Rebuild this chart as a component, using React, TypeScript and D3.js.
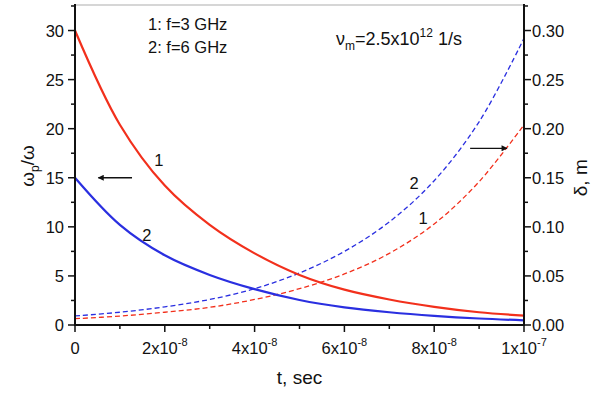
import React from "react";
import * as d3 from "d3";

const times = [0, 1e-8, 2e-8, 3e-8, 4e-8, 5e-8, 6e-8, 7e-8, 8e-8, 9e-8, 1e-7];
const ratio3GHz = [30, 20.4, 14.2, 10.2, 7.3, 5.1, 3.6, 2.6, 1.85, 1.3, 0.95];
const ratio6GHz = [15, 10.2, 7.1, 5.1, 3.65, 2.55, 1.8, 1.3, 0.93, 0.66, 0.48];
const delta3GHz = [0.0064, 0.0091, 0.013, 0.018, 0.026, 0.037, 0.052, 0.073, 0.103, 0.146, 0.204];
const delta6GHz = [0.0092, 0.013, 0.0185, 0.026, 0.037, 0.053, 0.075, 0.105, 0.147, 0.207, 0.292];

const xTicks = [
  { v: 0, m: "0", e: "" },
  { v: 2e-8, m: "2x10", e: "-8" },
  { v: 4e-8, m: "4x10", e: "-8" },
  { v: 6e-8, m: "6x10", e: "-8" },
  { v: 8e-8, m: "8x10", e: "-8" },
  { v: 1e-7, m: "1x10", e: "-7" },
];
const xMinor = [1e-8, 3e-8, 5e-8, 7e-8, 9e-8];
const yLeftTicks = [0, 5, 10, 15, 20, 25, 30];
const yLeftMinor = [2.5, 7.5, 12.5, 17.5, 22.5, 27.5, 32.5];
const yRightTicks = ["0.00", "0.05", "0.10", "0.15", "0.20", "0.25", "0.30"];
const yRightMinor = [0.025, 0.075, 0.125, 0.175, 0.225, 0.275, 0.325];

const RED = "#f2301c";
const BLUE = "#2a2fe0";
const FONT = "'Liberation Sans', Arial, Helvetica, sans-serif";

export default function App() {
  const W = 605, H = 393;
  const x = d3.scaleLinear().domain([0, 1e-7]).range([75, 524]);
  const yL = d3.scaleLinear().domain([0, 32.6]).range([325, 5]);
  const yR = d3.scaleLinear().domain([0, 0.326]).range([325, 5]);

  const lineL = d3
    .line<number>()
    .x((_, i) => x(times[i]))
    .y((d) => yL(d))
    .curve(d3.curveCatmullRom.alpha(0.5));
  const lineR = d3
    .line<number>()
    .x((_, i) => x(times[i]))
    .y((d) => yR(d))
    .curve(d3.curveCatmullRom.alpha(0.5));

  const x0 = x(0), x1 = x(1e-7), yb = yL(0), yt = 5;
  const FS = 16.5;

  return (
    <svg
      width={W}
      height={H}
      style={{ position: "absolute", left: 0, top: 0, background: "#fff" }}
      fontFamily={FONT}
    >
      <rect width={W} height={H} fill="#fff" />
      <line x1={x0} x2={x1} y1={yt} y2={yt} stroke="#c8c8c8" strokeWidth={1.5} />

      <path d={lineR(delta6GHz) || ""} fill="none" stroke={BLUE} strokeWidth={1.3} strokeDasharray="5,3" />
      <path d={lineR(delta3GHz) || ""} fill="none" stroke={RED} strokeWidth={1.3} strokeDasharray="5,3" />
      <path d={lineL(ratio6GHz) || ""} fill="none" stroke={BLUE} strokeWidth={2.2} />
      <path d={lineL(ratio3GHz) || ""} fill="none" stroke={RED} strokeWidth={2.2} />

      <line x1={x0} x2={x0} y1={yt - 1} y2={yb + 1} stroke="#111" strokeWidth={2} />
      <line x1={x1} x2={x1} y1={yt - 1} y2={yb + 1} stroke="#111" strokeWidth={2} />
      <line x1={x0 - 1} x2={x1 + 1} y1={yb} y2={yb} stroke="#111" strokeWidth={2} />

      {xTicks.map((t) => (
        <g key={"xt" + t.v}>
          <line x1={x(t.v)} x2={x(t.v)} y1={yb} y2={yb + 7} stroke="#111" strokeWidth={1.5} />
          <text x={x(t.v)} y={yb + 29} textAnchor="middle" fontSize={FS} fill="#111">
            {t.m}
            {t.e && (
              <tspan fontSize={11} dy={-8}>
                {t.e}
              </tspan>
            )}
          </text>
        </g>
      ))}
      {xMinor.map((v) => (
        <line key={"xm" + v} x1={x(v)} x2={x(v)} y1={yb} y2={yb + 4} stroke="#111" strokeWidth={1.5} />
      ))}

      {yLeftTicks.map((v) => (
        <g key={"yl" + v}>
          <line x1={x0 - 7} x2={x0} y1={yL(v)} y2={yL(v)} stroke="#111" strokeWidth={1.5} />
          <text x={x0 - 11} y={yL(v) + 6} textAnchor="end" fontSize={FS} fill="#111">
            {v}
          </text>
        </g>
      ))}
      {yLeftMinor.map((v) => (
        <line key={"ylm" + v} x1={x0 - 4} x2={x0} y1={yL(v)} y2={yL(v)} stroke="#111" strokeWidth={1.5} />
      ))}

      {yRightTicks.map((s) => (
        <g key={"yr" + s}>
          <line x1={x1} x2={x1 + 7} y1={yR(+s)} y2={yR(+s)} stroke="#111" strokeWidth={1.5} />
          <text x={x1 + 8} y={yR(+s) + 6} textAnchor="start" fontSize={FS} fill="#111">
            {s}
          </text>
        </g>
      ))}
      {yRightMinor.map((v) => (
        <line key={"yrm" + v} x1={x1} x2={x1 + 4} y1={yR(v)} y2={yR(v)} stroke="#111" strokeWidth={1.5} />
      ))}

      <text x={x(5e-8)} y={384} textAnchor="middle" fontSize={19} fill="#111">
        t, sec
      </text>
      <text transform={`translate(34,166) rotate(-90)`} textAnchor="middle" fontSize={19} fill="#111">
        ω
        <tspan fontSize={12} dy={5}>p</tspan>
        <tspan dy={-5}>/ω</tspan>
      </text>
      <text transform={`translate(587,${yR(0.15)}) rotate(-90)`} textAnchor="middle" fontSize={19} fill="#111">
        δ, m
      </text>

      <text x={148} y={30} fontSize={FS} fill="#111">1: f=3 GHz</text>
      <text x={148} y={53} fontSize={FS} fill="#111">2: f=6 GHz</text>
      <text x={336} y={45} fontSize={18} fill="#111">
        ν<tspan fontSize={12} dy={5}>m</tspan>
        <tspan dy={-5}>=2.5x10</tspan>
        <tspan fontSize={12} dy={-8}>12</tspan>
        <tspan dy={8}> 1/s</tspan>
      </text>

      <text x={x(1.87e-8)} y={yL(16.2)} textAnchor="middle" fontSize={FS} fill="#111">1</text>
      <text x={x(1.6e-8)} y={yL(8.6)} textAnchor="middle" fontSize={FS} fill="#111">2</text>
      <text x={x(7.55e-8)} y={yR(0.139)} textAnchor="middle" fontSize={FS} fill="#111">2</text>
      <text x={x(7.75e-8)} y={yR(0.103)} textAnchor="middle" fontSize={FS} fill="#111">1</text>

      <defs>
        <marker id="ah" viewBox="0 0 10 10" refX={9} refY={5} markerWidth={9} markerHeight={6} orient="auto" markerUnits="userSpaceOnUse">
          <path d="M0,0 L10,5 L0,10 z" fill="#111" />
        </marker>
      </defs>
      <line x1={x(1.27e-8)} x2={x(0.52e-8)} y1={yL(15)} y2={yL(15)} stroke="#111" strokeWidth={1.3} markerEnd="url(#ah)" />
      <line x1={x(8.8e-8)} x2={x(9.62e-8)} y1={yR(0.18)} y2={yR(0.18)} stroke="#111" strokeWidth={1.3} markerEnd="url(#ah)" />
    </svg>
  );
}
